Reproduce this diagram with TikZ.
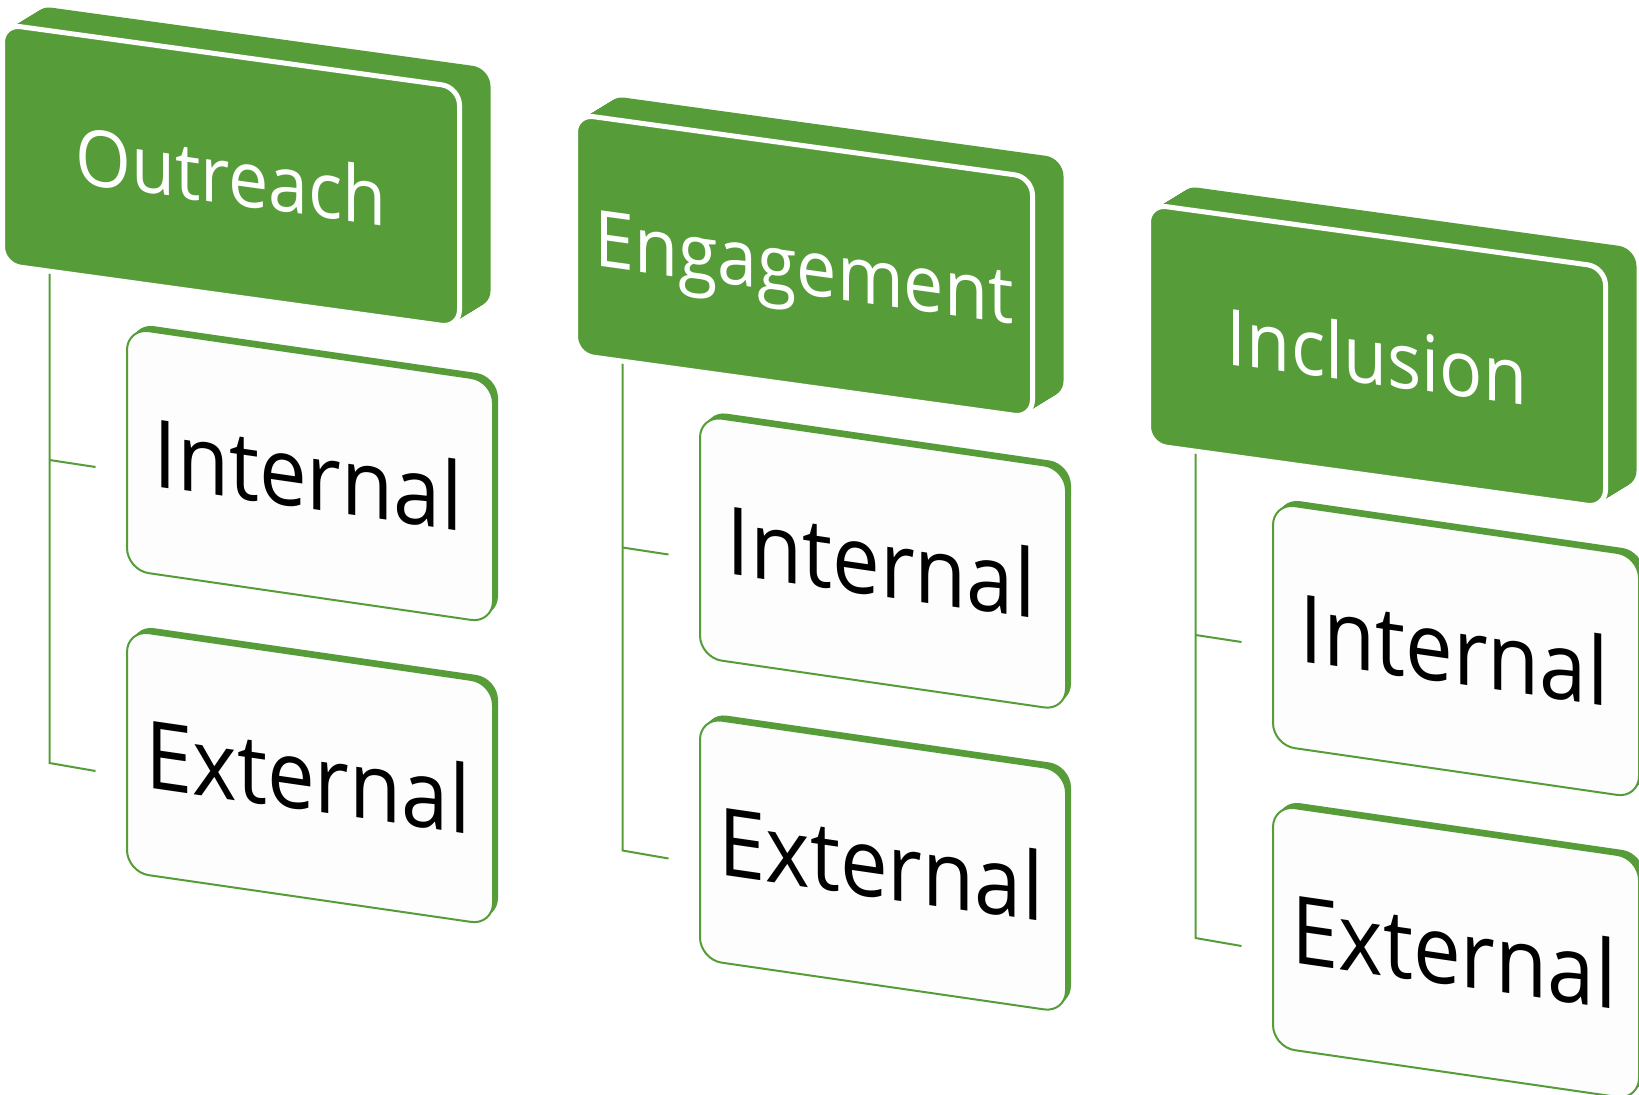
\documentclass[tikz,border=0pt]{standalone}
\usepackage{fontspec}
\setmainfont{Open Sans}
\definecolor{grn}{RGB}{86,157,58}
\definecolor{boxfill}{RGB}{253,253,253}
\tikzset{
  conn/.style={draw=grn, line width=2pt},
  hdrtext/.style={text=white, font=\fontsize{78}{78}\selectfont, transform shape, xscale=0.92, anchor=base, inner sep=0pt},
  chdtext/.style={text=black, font=\fontsize{94}{94}\selectfont, transform shape, xscale=0.905, anchor=base, inner sep=0pt},
}
\newcommand\hdrbox[4]{%
  \foreach \ii in {1,...,31}{%
    \begin{scope}[shift={(#1+\ii,#2-0.613*\ii)}, yslant=-0.138]
      \fill[grn, rounded corners=18pt] (0,0) rectangle (457,240.5);
    \end{scope}
  }%
  \begin{scope}[shift={(#1,#2)}, yslant=-0.138]
    \filldraw[fill=grn, draw=white, line width=5pt, rounded corners=18pt] (0,0) rectangle (457,240.5);
    \node[hdrtext] (#4) at (228.5,149) {#3};
  \end{scope}
}
\newcommand\chdbox[4]{%
  \foreach \ii in {1,...,5}{%
    \begin{scope}[shift={(#1+\ii,#2-\ii)}, yslant=-0.145]
      \fill[grn, rounded corners=22pt] (0,0) rectangle (366,242);
    \end{scope}
  }%
  \begin{scope}[shift={(#1,#2)}, yslant=-0.145]
    \filldraw[fill=boxfill, draw=grn, line width=2pt, rounded corners=22pt] (0,0) rectangle (366,242);
    \node[chdtext] (#4) at (181,154.5) {#3};
  \end{scope}
}
\begin{document}
\begin{tikzpicture}[x=1pt,y=-1pt]
\useasboundingbox (0,0) rectangle (1639,1095);
\fill[white] (0,0) rectangle (1639,1095);
\clip (0,0) rectangle (1639,1095);
% connectors
\foreach \c/\i in {o/0, e/1, n/2}{
  \coordinate (\c-top) at (49.5+573*\i, 262+90*\i);
  \coordinate (\c-bi) at (49.5+573*\i, 460+87.5*\i);
  \coordinate (\c-ei) at (95.5+573*\i, 467+87.5*\i);
  \coordinate (\c-be) at (49.5+573*\i, 763+87.5*\i);
  \coordinate (\c-ee) at (95.5+573*\i, 771+87.5*\i);
  \draw[conn] (\c-top) -- (\c-be) -- (\c-ee);
  \draw[conn] (\c-bi) -- (\c-ei);
}
% headers
\hdrbox{2.5}{24.2}{Outreach}{outreach}
\hdrbox{575.5}{114.2}{Engagement}{engagement}
\hdrbox{1148.5}{204.2}{Inclusion}{inclusion}
% children
\chdbox{127}{328}{Internal}{o-int}
\chdbox{127}{630}{External}{o-ext}
\chdbox{700}{415.5}{Internal}{e-int}
\chdbox{700}{717.5}{External}{e-ext}
\chdbox{1273}{503}{Internal}{n-int}
\chdbox{1273}{805}{External}{n-ext}
\end{tikzpicture}
\end{document}
